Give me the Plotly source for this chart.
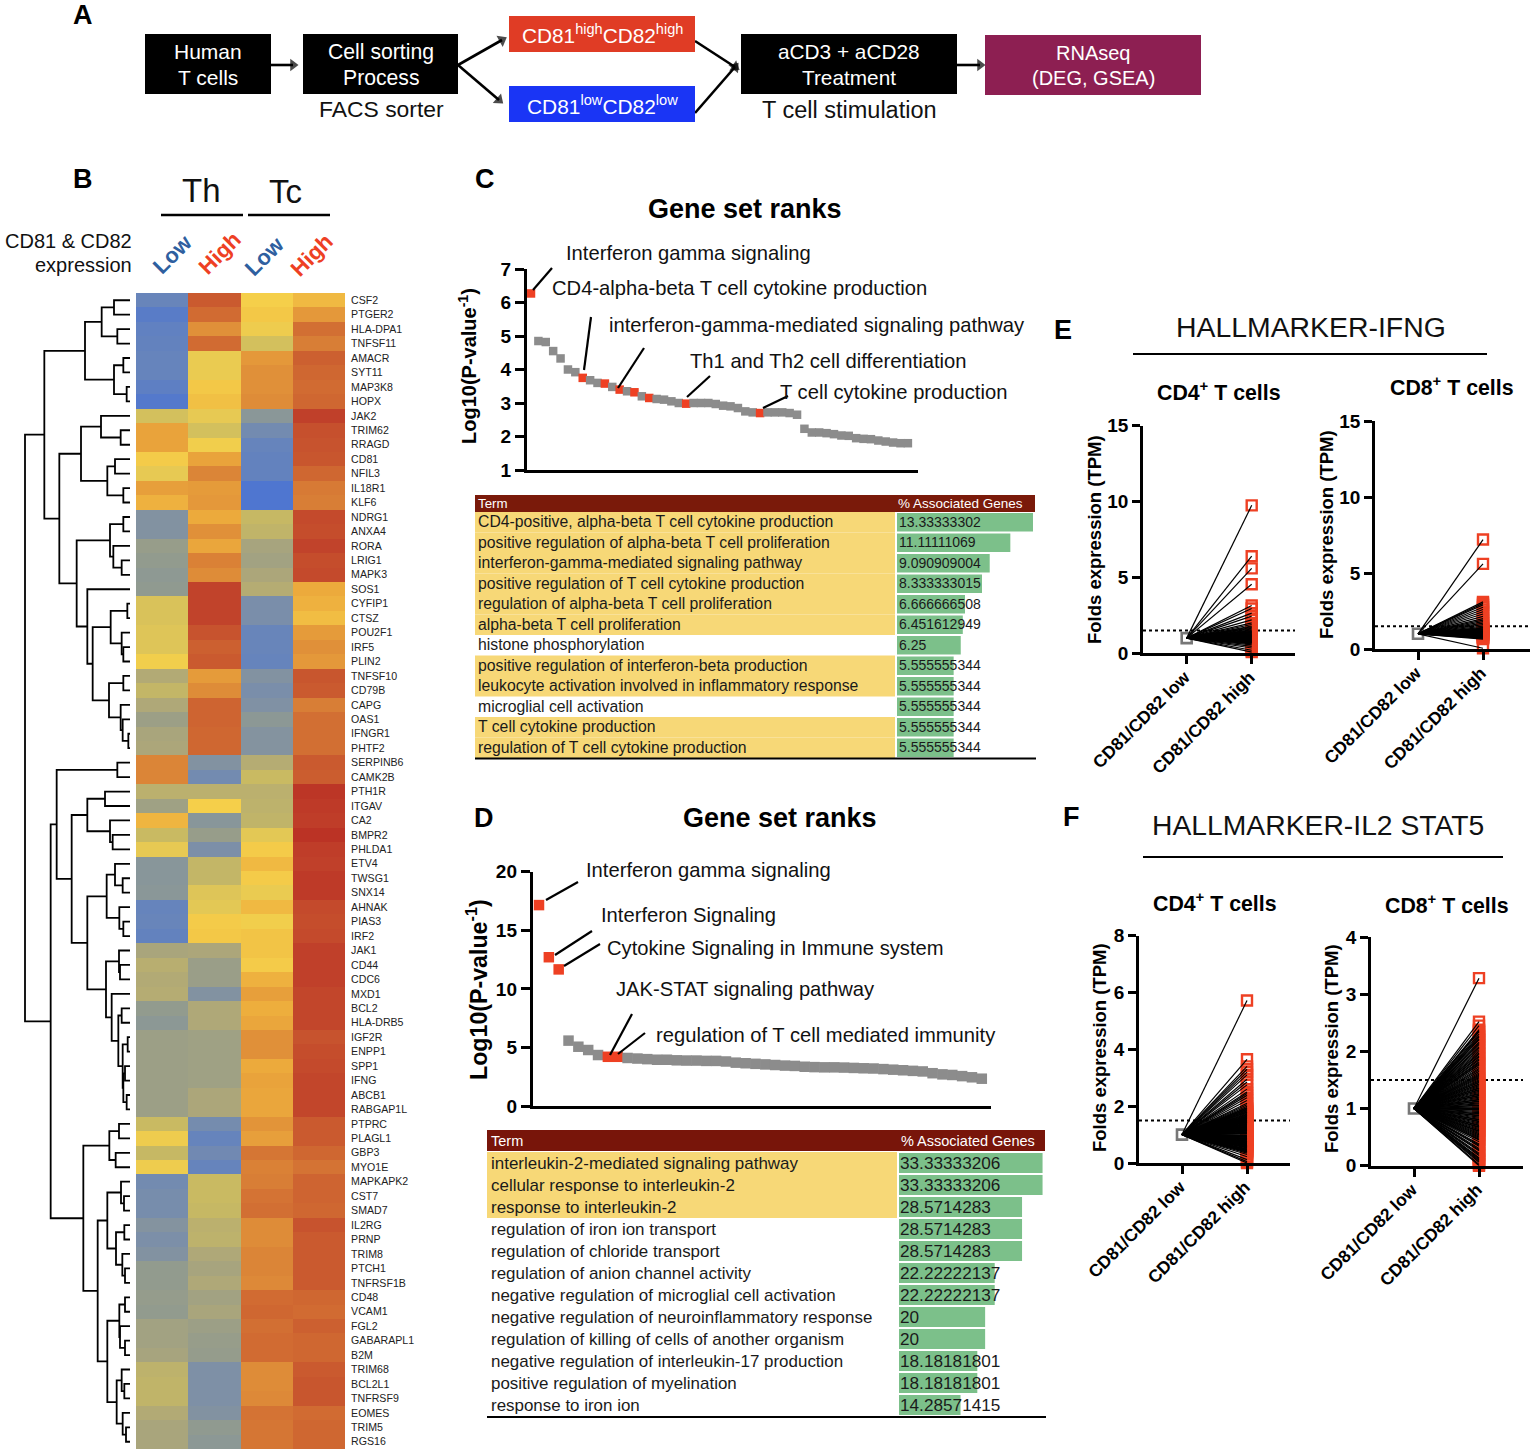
import plotly.graph_objects as go

W, H = 1535, 1456
FONT = "Liberation Sans"

# ---------- Panel B heatmap data ----------
GENES = ["CSF2","PTGER2","HLA-DPA1","TNFSF11","AMACR","SYT11","MAP3K8","HOPX","JAK2","TRIM62","RRAGD","CD81","NFIL3","IL18R1","KLF6",
"NDRG1","ANXA4","RORA","LRIG1","MAPK3","SOS1","CYFIP1","CTSZ","POU2F1","IRF5","PLIN2","TNFSF10","CD79B","CAPG","OAS1","IFNGR1","PHTF2",
"SERPINB6","CAMK2B","PTH1R","ITGAV","CA2","BMPR2","PHLDA1","ETV4","TWSG1","SNX14","AHNAK","PIAS3","IRF2","JAK1","CD44","CDC6","MXD1",
"BCL2","HLA-DRB5","IGF2R","ENPP1","SPP1","IFNG","ABCB1","RABGAP1L","PTPRC","PLAGL1","GBP3","MYO1E","MAPKAPK2","CST7","SMAD7","IL2RG",
"PRNP","TRIM8","PTCH1","TNFRSF1B","CD48","VCAM1","FGL2","GABARAPL1","B2M","TRIM68","BCL2L1","TNFRSF9","EOMES","TRIM5","RGS16"]
TH_LOW = [1,.4,.7,.8,.9,.9,.6,.2,5.2,7.2,7.2,6.1,5.6,7.3,6.8,2.2,2.2,3.2,3,2.8,2.9,5.3,5.3,5.4,5.4,5.9,4.2,4.8,4.1,3.4,3.9,4,
8,8,4.5,3.5,6.7,5,5.6,2.5,2.5,2.6,.9,1,.8,3.9,4.4,4.2,4.3,3,2.7,3.4,3.4,3.4,3.4,3.4,3.4,5,5.8,4.9,5.8,1.5,1.7,1.7,2.3,1.9,2.2,3,3,
3.1,3,3.6,3.6,3.8,4.6,4.7,4.7,4.2,3.9,3.9]
TH_HIGH = [9.2,8.7,7.7,8.7,5.7,5.7,6.2,6.4,5.6,5.2,5.9,7.2,8,7.4,7.5,7,7.7,7.1,8.1,7.8,9.9,9.9,9.9,9.4,9,9.2,7.4,7.8,8.9,8.9,8.8,8.8,
2.2,1.5,4.5,6,2.5,3.2,1.9,4.8,4.8,5.4,5.5,6.1,6.2,4,3.3,3.3,2.2,4.1,4.1,3.5,3.5,3.5,3.5,4,4,1.6,.9,1.4,.9,5,5,4.9,4.5,4.6,4.1,3.8,4.1,
3.6,3.9,3.4,3.2,3.1,2,2,2,2.2,2.9,2.7]
TC_LOW = [6,6.2,5.8,5.2,7.5,7.7,7.7,7.8,2.6,1.5,.9,.8,.8,0,0,4.9,4.7,3.8,3.6,4,4.3,1.8,1.8,1,1,.9,2.2,1.8,2.1,2.7,2.3,2.3,
4.3,5,4.5,4.6,4.7,5.5,6.1,6.6,6.1,5.7,6.6,5.9,6.3,6.3,6.1,6.8,7.3,6.9,7.1,7.7,7.7,7,7.2,7.1,7.1,7.6,7.3,8.4,8.1,8.2,8.5,8.6,7.8,7.8,8,8,7.9,
8.7,8.8,8.6,8.7,8.7,7.8,7.8,7.9,8.5,8.4,8.4]
TC_HIGH = [6.6,7.5,8.6,8.2,9,8.8,8.7,8.8,10,9.5,9.4,9.3,8.8,8.3,8.2,9.7,9.6,9.9,9.6,9.7,7,6.8,6.5,7.4,7.7,7.5,9.3,9.2,8.2,8.6,8.6,8.6,
9.2,9.1,10.3,10.2,10.1,10.4,10.1,10,10.2,10.2,9.7,9.6,9.7,10,10,10,9.8,9.8,9.8,9.4,9.6,9.7,9.8,9.8,9.8,9.2,9.2,8.8,8.5,8.9,8.9,8.8,9.4,9.2,9.2,9.2,9.2,
8.8,8.7,9,8.8,8.8,9.2,9.3,9.3,8.7,8.8,8.8]
HEAT_COLUMNS = ["Th Low", "Th High", "Tc Low", "Tc High"]
HEAT_STOPS = [(0,"#4f76d0"),(1,"#6885ba"),(2,"#7e90a6"),(3,"#929b8e"),(4,"#aca67a"),(5,"#c9ba62"),(5.5,"#e3c855"),(6,"#f5cf4a"),
              (7,"#ecaa3c"),(8,"#db8537"),(9,"#cc6030"),(10,"#c0402a"),(10.4,"#bb3325")]

# Dendrogram: (merge height, left, right); integer = row index
DENDRO = (75,
 (133,
  (255,(305,(342,0,1),(352,2,3)),(342,(370,4,5),(380,6,7))),
  (178,
   (243,(303,8,(362,9,10)),(322,(345,11,12),(370,13,14))),
   (230,
    (330,(370,15,16),(340,17,(365,18,19))),
    (262,20,(278,(332,(382,21,22),(365,23,(370,24,25))),(327,(370,26,27),(362,28,(368,29,(385,30,31)))))))),
 ),
 (152,
  (170,(352,32,33),
   (215,
    (262,(315,34,35),(330,36,(338,37,38))),
    (262,
     (320,(345,39,(368,40,41)),(358,42,(370,43,44))),
     (318,(357,45,(360,46,47)),(335,48,(355,(365,49,50),(368,(383,51,52),(370,(375,53,54),(380,55,56)))))),
    ))),
  (250,
   (328,(357,57,58),(347,59,60)),
   (293,
    (322,(363,61,(372,62,63)),(348,(373,64,65),(367,66,(375,67,68)))),
    (322,(358,(375,69,70),(360,71,(375,72,73))),(350,(365,74,(373,75,76)),(368,77,(378,78,79))))))))
DENDRO_LEAF_H = 390

# ---------- Panels C / D ranks ----------
C_RANK = [6.27,4.85,4.82,4.55,4.33,4.0,3.92,3.75,3.68,3.6,3.58,3.48,3.4,3.35,3.32,3.2,3.15,3.12,3.1,3.05,3.0,2.98,3.0,3.0,3.0,2.97,2.92,2.9,2.85,2.75,2.72,2.7,
          2.72,2.72,2.72,2.7,2.65,2.23,2.12,2.12,2.1,2.07,2.03,2.02,1.95,1.93,1.92,1.88,1.85,1.82,1.8,1.8]
C_RED = [0,7,10,12,14,16,21,31]
D_RANK = [17.15,12.7,11.66,5.58,5.06,4.78,4.35,4.2,4.2,4.1,4.05,4.0,3.95,3.95,3.9,3.88,3.88,3.85,3.85,3.8,3.7,3.65,3.6,3.55,3.5,3.45,3.42,3.35,3.32,3.3,3.3,3.28,
          3.25,3.22,3.2,3.15,3.1,3.05,3.0,2.95,2.8,2.7,2.65,2.55,2.45,2.33]
D_RED = [0,1,2,7,8]

C_TERMS = ["CD4-positive, alpha-beta T cell cytokine production","positive regulation of alpha-beta T cell proliferation",
 "interferon-gamma-mediated signaling pathway","positive regulation of T cell cytokine production","regulation of alpha-beta T cell proliferation",
 "alpha-beta T cell proliferation","histone phosphorylation","positive regulation of interferon-beta production",
 "leukocyte activation involved in inflammatory response","microglial cell activation","T cell cytokine production","regulation of T cell cytokine production"]
C_PCT = [13.33333302,11.11111069,9.090909004,8.333333015,6.666666508,6.451612949,6.25,5.555555344,5.555555344,5.555555344,5.555555344,5.555555344]
C_PCT_LABEL = ["13.33333302","11.11111069","9.090909004","8.333333015","6.666666508","6.451612949","6.25","5.555555344","5.555555344","5.555555344","5.555555344","5.555555344"]
C_HILITE = [1,1,1,1,1,1,0,1,1,0,1,1]
D_TERMS = ["interleukin-2-mediated signaling pathway","cellular response to interleukin-2","response to interleukin-2","regulation of iron ion transport",
 "regulation of chloride transport","regulation of anion channel activity","negative regulation of microglial cell activation",
 "negative regulation of neuroinflammatory response","regulation of killing of cells of another organism","negative regulation of interleukin-17 production",
 "positive regulation of myelination","response to iron ion"]
D_PCT = [33.33333206,33.33333206,28.5714283,28.5714283,28.5714283,22.22222137,22.22222137,20,20,18.18181801,18.18181801,14.2857141]
D_PCT_LABEL = ["33.33333206","33.33333206","28.5714283","28.5714283","28.5714283","22.22222137","22.22222137","20","20","18.18181801","18.18181801","14.28571415"]
D_HILITE = [1,1,1,0,0,0,0,0,0,0,0,0]

# ---------- Panels E / F paired values ----------
PAIR_CATEGORIES = ["CD81/CD82 low","CD81/CD82 high"]
LOW_VALUE = 1
THRESHOLD = 1.5
E_CD4 = [9.75,6.4,5.6,4.55,3.15,2.95,2.65,2.45,2.2,2.0,1.9,1.8,1.75,1.7,1.65,1.6,1.55,1.5,1.45,1.42,1.4,1.37,1.34,1.3,1.28,1.25,1.22,1.2,1.17,1.15,1.12,1.1,
         1.08,1.05,1.02,1.0,.98,.95,.92,.9,.88,.85,.82,.8,.78,.75,.72,.7,.67,.62,.55,.45,.35,.2,.08]
E_CD8 = [7.2,5.6,3.1,3.0,2.9,2.75,2.6,2.45,2.3,2.15,2.0,1.9,1.8,1.7,1.6,1.5,1.42,1.37,1.33,1.3,1.27,1.24,1.2,1.17,1.14,1.11,1.08,1.05,1.02,1.0,.97,.94,.91,.88,
         .85,.82,.79,.76,.73,.7,.65,.05]
F_CD4 = [5.72,3.65,3.4,3.3,3.2,3.1,2.95,2.85,2.75,2.6,2.5,2.45,2.38,2.3,2.2,2.1,2.05,2.0,1.95,1.9,1.85,1.8,1.75,1.7,1.65,1.62,1.58,1.55,1.52,1.48,1.45,1.42,
         1.38,1.35,1.32,1.28,1.25,1.22,1.18,1.15,1.12,1.08,1.05,1.02,.98,.95,.92,.88,.85,.82,.78,.75,.72,.68,.65,.62,.58,.55,.5,.45,.42,.38,.3,.22,.12,.05,0,
         .96,.94,.9,.86,.84,.8,.76,.74,.7,.66,.64,.6,.56,.53,.48,1.04,1.06,1.1,1.14,1.16,1.2,1.24,1.26,1.3,1.34,1.36,1.4,1.44,1.46,1.5,1.54,1.57,1.6,1.64,1.68,1.72,1.78,1.83,1.88,1.93,.47,.43,.4,.35]
F_CD8 = [3.28,2.52,2.45,2.38,2.34,2.3,2.25,2.2,2.16,2.12,2.06,2.0,1.95,1.9,1.85,1.8,1.76,1.7,1.65,1.6,1.56,1.52,1.48,1.45,1.42,1.38,1.35,1.32,1.28,1.25,1.22,
         1.18,1.15,1.12,1.1,1.06,1.03,1.0,.97,.93,.9,.87,.83,.8,.77,.73,.7,.67,.63,.6,.56,.52,.48,.45,.42,.38,.34,.3,.26,.22,.18,.14,.1,.06,.02,0,
         2.36,2.27,2.22,2.14,2.08,2.03,1.97,1.92,1.87,1.82,1.78,1.73,1.68,1.62,1.58,1.54,1.5,1.46,1.43,1.4,1.36,1.33,1.3,1.26,1.23,1.2,1.16,1.13,1.08,1.05,1.01,.98,.95,.91,.88,.85,.81,.78,.75,.71,.68,.65,.61,.58,.54,.5,.46,.36,.28,.2,.12,.08]

# Flow arrows of panel A: start and end (the head is centred near the end)
FLOW_ARROWS = [(271,65,293,65),(458,65,502,40),(458,65,499,100),(695,41,735,67),(695,113,735,67),(957,65,980,65)]

RED = "#ee4023"
GRAY = "#8c8c8c"
GREEN = "#7cc08a"
YELLOW = "#f7d877"
HEADER = "#7a1a0a"

layout = {}
traces = []
shapes = []
annos = []

def px(x): return x / W
def py(y): return 1 - y / H

def add_axes(n, x0, x1, y0, y1, xo, yo):
    s = "" if n == 1 else str(n)
    layout["xaxis" + s] = dict(domain=[px(x0), px(x1)], anchor="y" + s, fixedrange=True, zeroline=False, showgrid=False, **xo)
    layout["yaxis" + s] = dict(domain=[py(y1), py(y0)], anchor="x" + s, fixedrange=True, zeroline=False, showgrid=False, **yo)
    return "x" + s, "y" + s

def text(x, y, t, size=20, color="#111", bold=False, anchor="center", angle=0):
    # annotations carry about 2px of inner padding, compensated for side-anchored text
    shift = {"left": -2, "right": 2, "center": 0}[anchor]
    annos.append(dict(x=px(x + shift), y=py(y), xref="paper", yref="paper", text=t, showarrow=False, xanchor=anchor, yanchor="middle",
                      textangle=angle, font=dict(family=FONT, size=size, color=color, weight=700 if bold else 400)))

def rect(x0, y0, x1, y1, color):
    shapes.append(dict(type="rect", xref="paper", yref="paper", x0=px(x0), x1=px(x1), y0=py(y0), y1=py(y1), fillcolor=color, line_width=0))

def line(x0, y0, x1, y1, w=2.5, color="#000"):
    shapes.append(dict(type="line", xref="paper", yref="paper", x0=px(x0), x1=px(x1), y0=py(y0), y1=py(y1), line=dict(color=color, width=w)))

# ---------- Panel letters ----------
for (lx, ly, l) in [(83,15,"A"),(83,179,"B"),(485,179,"C"),(484,818,"D"),(1063,330,"E"),(1071,817,"F")]:
    text(lx, ly, l, size=27, color="#000", bold=True)

# ---------- Panel A ----------
for (a, b, c, d, col) in [(145,34,271,94,"#000"),(303,34,458,94,"#000"),(509,16,695,52,"#e03c25"),(509,86,695,122,"#1a35f5"),(741,34,957,94,"#000"),(985,35,1201,95,"#8d1f52")]:
    rect(a, b, c, d, col)
text(208,52,"Human",21,"#fff"); text(208,77,"T cells",21,"#fff")
text(381,52,"Cell sorting",21.2,"#fff"); text(381,77,"Process",21.2,"#fff")
text(602,34,"CD81<sup>high</sup>CD82<sup>high</sup>",20.8,"#fff")
text(602,105,"CD81<sup>low</sup>CD82<sup>low</sup>",20.9,"#fff")
text(849,52,"aCD3 + aCD28",20.8,"#fff"); text(849,77,"Treatment",20.8,"#fff")
text(1093,53,"RNAseq",20,"#fff"); text(1093,78,"(DEG, GSEA)",20,"#fff")
text(381,109,"FACS sorter",22.9); text(849,110,"T cell stimulation",23.5)
xr, yr = add_axes(13, 0, W, 0, H, dict(visible=False, range=[0, W]), dict(visible=False, range=[H, 0]))
for (x0, y0, x1, y1) in FLOW_ARROWS:
    traces.append(go.Scatter(x=[x0, x1], y=[y0, y1], mode="lines+markers", line=dict(color="#000", width=2.6),
        marker=dict(symbol="triangle-up", angleref="previous", size=[0, 11], color="#000", line_width=0), xaxis=xr, yaxis=yr, cliponaxis=False))

# ---------- Panel B ----------
xr, yr = add_axes(1, 136, 345, 293, 1449,
    dict(visible=False, range=[-.5, 3.5]),
    dict(range=[79.5, -.5], side="right", tickmode="array", tickvals=list(range(80)), ticktext=GENES, ticks="outside", ticklen=3,
         tickcolor="rgba(0,0,0,0)", showline=False, tickfont=dict(family=FONT, size=10.6, color="#222")))
zmax = HEAT_STOPS[-1][0]
traces.append(go.Heatmap(z=[list(r) for r in zip(TH_LOW, TH_HIGH, TC_LOW, TC_HIGH)], x=list(range(4)), y=list(range(80)), zmin=0, zmax=zmax,
    colorscale=[[s / zmax, c] for s, c in HEAT_STOPS], showscale=False, xaxis=xr, yaxis=yr))

dx, dy = [], []
def walk(node):
    if isinstance(node, int):
        return DENDRO_LEAF_H, node
    h, l, r = node
    lh, ly_ = walk(l); rh, ry_ = walk(r)
    dx.extend([lh, h, h, rh, None]); dy.extend([ly_, ly_, ry_, ry_, None])
    return h, (ly_ + ry_) / 2
walk(DENDRO)
xr, yr = add_axes(2, 0, 136, 293, 1449, dict(visible=False, range=[0, 408]), dict(visible=False, range=[79.5, -.5]))
traces.append(go.Scatter(x=dx, y=dy, mode="lines", line=dict(color="#000", width=1.8), xaxis=xr, yaxis=yr, connectgaps=False))

text(201,191,"Th",33); text(285,192,"Tc",33)
line(161,215,243,215,2.5); line(248,215,330,215,2.5)
text(132,241,"CD81 &amp; CD82",20,anchor="right"); text(132,265,"expression",20,anchor="right")
text(172,254,"Low",22,"#2f5f9f",True,angle=-45); text(219,253,"High",22,RED,True,angle=-45)
text(264,256,"Low",22,"#2f5f9f",True,angle=-45); text(311,255,"High",22,RED,True,angle=-45)

# ---------- Panels C, D ----------
def rank_panel(n, xa, xb, ytop, ybot, first_px, step, vals, red, ymin, ymax, tickvals, size):
    AX = dict(showline=True, linecolor="#000", linewidth=3.4)
    xr, yr = add_axes(n, xa, xb, ytop, ybot,
        dict(range=[(xa - first_px) / step, (xb - first_px) / step], showticklabels=False, ticks="", **AX),
        dict(range=[ymin, ymax], tickmode="array", tickvals=tickvals, ticks="outside", ticklen=9, tickwidth=3, tickcolor="#000",
             tickfont=dict(family=FONT, size=19, color="#000", weight=700), **AX))
    colors = [RED if i in red else GRAY for i in range(len(vals))]
    traces.append(go.Scatter(x=list(range(len(vals))), y=vals, mode="markers", cliponaxis=False,
        marker=dict(symbol="square", size=size, color=colors, line_width=0), xaxis=xr, yaxis=yr))

rank_panel(3, 527, 918, 269, 470, 531, 7.39, C_RANK, C_RED, 1, 7, [1,2,3,4,5,6,7], 8.5)
rank_panel(6, 533, 991, 871.7, 1106, 539, 9.84, D_RANK, D_RED, 0, 20, [0,5,10,15,20], 10.5)

text(745,209,"Gene set ranks",27,"#000",True); text(780,818,"Gene set ranks",27,"#000",True)
text(467,366,"Log10(P-value<sup>-1</sup>)",20,"#000",True,angle=-90)
text(477,990,"Log10(P-value<sup>-1</sup>)",23.2,"#000",True,angle=-90)

for (lx, ly, l, a) in [(566,253,"Interferon gamma signaling","left"),(552,288,"CD4-alpha-beta T cell cytokine production","left"),
    (609,325,"interferon-gamma-mediated signaling pathway","left"),(690,361,"Th1 and Th2 cell differentiation","left"),(780,392,"T cell cytokine production","left"),
    (586,870,"Interferon gamma signaling","left"),(601,915,"Interferon Signaling","left"),(607,948,"Cytokine Signaling in Immune system","left"),
    (616,989,"JAK-STAT signaling pathway","left"),(656,1035,"regulation of T cell mediated immunity","left")]:
    text(lx, ly, l, 20.2, anchor=a)

for seg in [(533,290,552,268),(584,370,591,317),(618,388,644,348),(687,397,710,376),(763,408,788,396),
            (546,900,578,882),(555,955,592,931),(564,966,600,944),(610,1055,632,1014),(618,1054,645,1033)]:
    line(*seg, w=2.2)

def table(n_term, xa, xsplit, xb, ytop, ybot, terms, hilite, pct, labels, xmax, term_size, pct_size, left_pad, text_dy, pct_pad):
    nrows = len(terms)
    rng = [nrows - .5, -.5]
    rows = list(range(nrows))
    text_rows = [r + text_dy for r in rows]
    xr, yr = add_axes(n_term, xa, xsplit, ytop, ybot, dict(visible=False, range=[0, 1]), dict(visible=False, range=rng))
    traces.append(go.Bar(x=hilite, y=rows, orientation="h", marker=dict(color=YELLOW, line_width=0), width=1, xaxis=xr, yaxis=yr))
    traces.append(go.Scatter(x=[left_pad / (xsplit - xa)] * nrows, y=text_rows, mode="text", text=terms, textposition="middle right",
        textfont=dict(family=FONT, size=term_size, color="#1a1a1a"), xaxis=xr, yaxis=yr, cliponaxis=False))
    xr, yr = add_axes(n_term + 1, xsplit + 2, xb, ytop, ybot, dict(visible=False, range=[0, xmax]), dict(visible=False, range=rng))
    traces.append(go.Bar(x=pct, y=rows, orientation="h", marker=dict(color=GREEN, line_width=0), width=.9, xaxis=xr, yaxis=yr))
    traces.append(go.Scatter(x=[pct_pad * xmax / (xb - xsplit - 2)] * nrows, y=text_rows, mode="text", text=labels, textposition="middle right",
        textfont=dict(family=FONT, size=pct_size, color="#1a1a1a"), xaxis=xr, yaxis=yr, cliponaxis=False))

table(4, 475, 895, 1035, 512, 758, C_TERMS, C_HILITE, C_PCT, C_PCT_LABEL, 13.53, 15.77, 14, 3, .05, 2)
table(7, 487, 897, 1045, 1152, 1416, D_TERMS, D_HILITE, D_PCT, D_PCT_LABEL, 33.9, 16.95, 17.2, 4, .09, 1)

rect(475,495,1035,512,HEADER); text(478,503.5,"Term",13.3,"#fff",anchor="left"); text(898,503.5,"% Associated Genes",13.5,"#fff",anchor="left")
line(475,758.5,1036,758.5,2.2)
rect(487,1130,1045,1151,"#78150a"); text(491,1141,"Term",14.5,"#fff",anchor="left"); text(901,1141,"% Associated Genes",14.5,"#fff",anchor="left")
line(487,1417,1046,1417,2.2)

# ---------- Panels E, F ----------
def pair_panel(n, xa, xb, ytop, ybot, cat0, vals, ymax, tickvals):
    step = 65
    AX = dict(showline=True, linecolor="#000", linewidth=2.8, ticks="outside", ticklen=8, tickwidth=2.8, tickcolor="#000")
    xlo, xhi = (xa - cat0) / step, (xb - cat0) / step
    xr, yr = add_axes(n, xa, xb, ytop, ybot,
        dict(range=[xlo, xhi], tickmode="array", tickvals=[0, 1], ticktext=PAIR_CATEGORIES, tickangle=-45,
             ticklabelstandoff=-4, ticklabelshift=-2,
             tickfont=dict(family=FONT, size=17.5, color="#000", weight=700), **AX),
        dict(range=[0, ymax], tickmode="array", tickvals=tickvals, tickfont=dict(family=FONT, size=19, color="#000", weight=700), **AX))
    traces.append(go.Scatter(x=[xlo, xhi], y=[THRESHOLD, THRESHOLD], mode="lines", line=dict(color="#000", width=2, dash="dot"), xaxis=xr, yaxis=yr))
    traces.append(go.Scatter(x=[1] * len(vals), y=vals, mode="markers", cliponaxis=False,
        marker=dict(symbol="square-open", size=10, color=RED, line=dict(color=RED, width=2.4)), xaxis=xr, yaxis=yr))
    traces.append(go.Scatter(x=[0], y=[LOW_VALUE], mode="markers", cliponaxis=False,
        marker=dict(symbol="square-open", size=10, color="#777", line=dict(color="#777", width=2.6)), xaxis=xr, yaxis=yr))
    lx, ly = [], []
    for v in vals:
        lx += [0, 1, None]; ly += [LOW_VALUE, v, None]
    traces.append(go.Scatter(x=lx, y=ly, mode="lines", line=dict(color="#000", width=1.2), xaxis=xr, yaxis=yr, cliponaxis=False))

pair_panel(9, 1143, 1295, 425.7, 653.3, 1186.7, E_CD4, 15, [0,5,10,15])
pair_panel(10, 1375, 1530, 421, 649, 1418, E_CD8, 15, [0,5,10,15])
pair_panel(11, 1139, 1290, 935.7, 1163, 1182, F_CD4, 8, [0,2,4,6,8])
pair_panel(12, 1371, 1523, 937, 1165.7, 1414, F_CD8, 4, [0,1,2,3,4])

text(1311,327,"HALLMARKER-IFNG",28.4); line(1133,354,1487,354,2)
text(1318,825,"HALLMARKER-IL2 STAT5",28.3); line(1143,857,1503,857,2)
text(1219,392,"CD4<sup>+</sup> T cells",21.3,"#000",True); text(1452,387,"CD8<sup>+</sup> T cells",21.3,"#000",True)
text(1215,902,"CD4<sup>+</sup> T cells",21.3,"#000",True); text(1447,904,"CD8<sup>+</sup> T cells",21.3,"#000",True)
for (lx, ly) in [(1094,540),(1326,535),(1099,1048),(1331,1049)]:
    text(lx, ly, "Folds expression (TPM)", 18.5, "#000", True, angle=-90)

fig = go.Figure(data=traces)
fig.update_layout(width=W, height=H, margin=dict(l=0, r=0, t=0, b=0, autoexpand=False), paper_bgcolor="#fff", plot_bgcolor="rgba(0,0,0,0)",
    showlegend=False, barmode="overlay", font=dict(family=FONT), shapes=shapes, annotations=annos, hovermode=False, **layout)
fig.write_html("out.html", post_script="document.body.style.margin='0';", config=dict(displayModeBar=False))
